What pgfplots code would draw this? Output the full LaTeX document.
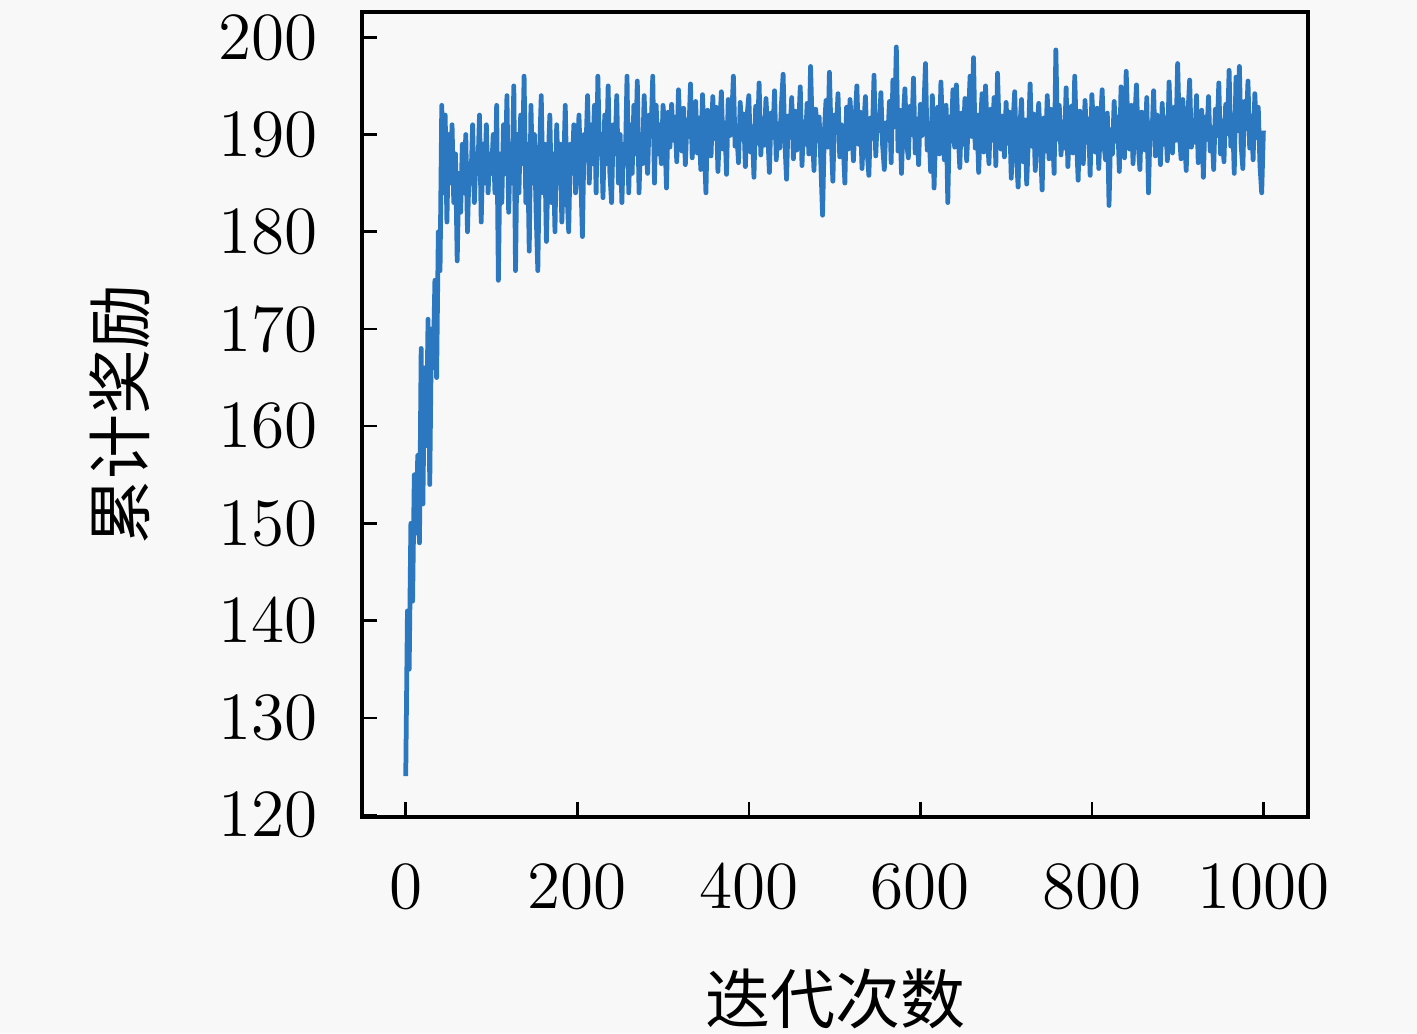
\documentclass[border=0pt]{standalone}
\usepackage{fontspec}
\newfontfamily\cjk{Noto Sans CJK SC}
\usepackage{pgfplots}
\usepackage{pgfplotstable}
\pgfplotsset{compat=1.18}
\definecolor{linecol}{RGB}{44,120,192}
\definecolor{bgcol}{RGB}{248,248,248}
\pgfplotstableread[header=false,row sep=\\]{
124\\141\\135\\150\\142\\155\\149\\157\\148\\168\\152\\166\\158\\171\\154\\170\\166\\175\\165\\180\\176\\193\\184\\192\\181\\190\\
185\\191\\183\\188\\177\\186\\182\\189\\184\\190\\180\\187\\185\\191\\183\\188\\186\\192\\181\\189\\185\\191\\184\\188\\186\\
190\\184\\193\\175\\188\\183\\191\\186\\194\\182\\
189\\185\\195\\176\\190\\184\\192\\187\\196\\183\\
189\\178\\193\\185\\190\\182\\176\\188\\194\\184\\
189\\179\\187\\192\\183\\188\\180\\191\\185\\189\\
181\\186\\193\\184\\180\\189\\186\\191\\184\\188\\
192\\186\\179.5\\190\\188\\194\\185\\191\\187\\193\\
184\\196\\188\\190\\183.5\\192\\187\\195\\186\\183\\
191\\188\\194\\185\\190\\183\\189\\187\\196\\184\\
191\\186\\193\\188\\195.5\\184\\190\\187\\194\\189\\
186\\192\\190\\196\\185\\193\\188\\191\\187\\193\\
190.5\\184.5\\192.3\\188.7\\193.1\\189.4\\191.8\\187.2\\194.6\\190.1\\
188.3\\192.7\\186.9\\191.5\\189.8\\195.2\\187.6\\190.9\\193.4\\188.1\\
191.7\\186.4\\194.1\\189.2\\184.0\\192.5\\190.3\\187.8\\193.9\\189.6\\
192.8\\186.2\\190.7\\194.4\\188.5\\191.2\\185.9\\193.6\\189.9\\191.4\\
196.0\\188.8\\190.2\\187.1\\193.3\\189.5\\192.1\\186.7\\191.9\\194.0\\
188.2\\190.8\\185.6\\192.9\\189.1\\195.3\\187.9\\191.6\\188.9\\193.7\\
190.4\\186.1\\192.2\\189.7\\194.5\\187.4\\191.1\\188.6\\193.0\\196.2\\
189.3\\185.4\\191.9\\190.0\\193.8\\187.5\\192.4\\188.4\\190.6\\194.9\\
186.8\\191.3\\189.0\\193.2\\188.0\\197.0\\190.5\\186.3\\192.6\\189.4\\
191.8\\187.0\\181.7\\190.1\\193.5\\188.7\\196.4\\189.8\\185.2\\192.0\\
190.3\\194.2\\187.7\\191.0\\189.2\\185.0\\192.8\\188.5\\193.6\\190.7\\
187.3\\191.5\\195.0\\189.0\\192.3\\186.5\\190.9\\193.9\\188.2\\185.8\\
191.7\\189.6\\196.1\\187.8\\192.0\\190.4\\194.3\\188.9\\186.4\\191.2\\
189.5\\193.4\\187.1\\195.6\\190.8\\199.0\\188.3\\192.5\\186.0\\191.4\\
194.7\\189.2\\187.6\\192.9\\190.0\\195.8\\188.1\\191.6\\186.9\\193.1\\
189.9\\192.4\\197.3\\188.4\\191.0\\186.2\\194.0\\184.5\\190.6\\192.8\\
188.0\\195.4\\190.2\\187.4\\193.0\\183.0\\191.8\\189.3\\194.6\\188.7\\
195.1\\190.5\\186.6\\192.2\\189.0\\193.7\\187.3\\191.4\\196.0\\189.8\\
197.9\\188.6\\192.0\\186.1\\190.9\\194.2\\188.2\\195.0\\190.3\\187.0\\
192.6\\189.4\\193.8\\186.8\\196.3\\190.0\\188.5\\191.9\\187.7\\193.3\\
189.1\\192.3\\185.5\\191.0\\194.4\\188.0\\184.6\\190.7\\193.6\\187.2\\
191.5\\184.9\\189.6\\195.2\\188.8\\192.1\\186.3\\190.4\\193.2\\189.0\\
184.3\\191.7\\188.3\\194.0\\187.5\\192.6\\190.2\\186.0\\198.7\\189.5\\
193.0\\187.9\\191.3\\188.6\\194.8\\186.7\\190.8\\192.9\\188.1\\196.0\\
189.7\\185.3\\192.4\\190.0\\187.0\\193.5\\189.2\\191.6\\185.8\\194.1\\
190.4\\188.2\\192.7\\186.5\\191.1\\194.6\\189.0\\187.4\\192.2\\182.7\\
190.5\\188.0\\193.4\\189.3\\191.8\\186.2\\194.9\\190.1\\187.6\\196.5\\
190.8\\188.5\\193.0\\187.0\\191.5\\195.1\\189.1\\186.4\\192.3\\190.0\\
188.4\\193.8\\184.0\\191.2\\189.6\\194.5\\187.8\\192.0\\190.3\\186.9\\
193.2\\189.0\\191.7\\187.3\\195.4\\190.6\\188.1\\192.8\\189.4\\197.3\\
190.2\\187.5\\193.6\\189.8\\186.3\\192.1\\195.6\\188.7\\191.3\\189.2\\
194.0\\187.1\\190.9\\192.5\\185.6\\191.8\\189.5\\193.9\\188.3\\190.7\\
186.4\\192.6\\189.9\\195.3\\188.0\\191.4\\187.2\\193.1\\190.1\\196.6\\
188.8\\192.0\\186.0\\195.9\\190.4\\197.0\\189.0\\186.5\\193.4\\190.6\\
195.5\\188.6\\191.9\\187.4\\194.2\\189.7\\192.8\\186.8\\184.0\\190.4\\
}\rewarddata
\begin{document}
\begin{tikzpicture}
\fill[bgcol] (-72.4pt,-43.2pt) rectangle (211pt,163.4pt);
\path[use as bounding box] (-72.4pt,-43.2pt) rectangle (211pt,163.4pt);
\begin{axis}[
  scale only axis,
  width=189.2pt, height=161pt,
  xmin=-51, xmax=1052,
  ymin=119.8, ymax=202.6,
  xtick={0,200,...,1000},
  ytick={120,130,...,200},
  xtick pos=bottom, ytick pos=left,
  tick align=inside,
  major tick length=3pt,
  major tick style={line width=0.5pt,black},
  axis line style={line width=0.7pt,black},
  /pgf/number format/assume math mode=true,
  /pgf/number format/1000 sep={},
  tick label style={font=\fontsize{13.5}{15}\selectfont},
  xticklabel style={yshift=-5.7pt},
  yticklabel style={xshift=-5.3pt},
  axis background/.style={fill=bgcol},
  xlabel={\cjk 迭代次数},
  ylabel={\cjk 累计奖励},
  label style={font=\fontsize{13}{15}\selectfont},
  xlabel style={at={(axis description cs:0.5,0)},anchor=center,yshift=-36.4pt},
  ylabel style={at={(axis description cs:0,0.5)},anchor=center,yshift=48.4pt},
]
\addplot[linecol, line width=0.95pt, line join=round] table[x expr=\coordindex*2, y index=0] {\rewarddata};
\end{axis}
\end{tikzpicture}
\end{document}
